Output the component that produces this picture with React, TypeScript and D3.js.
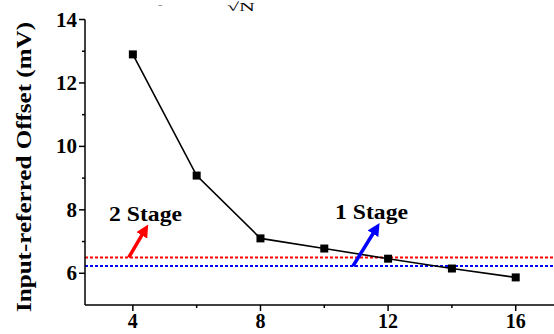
import React, { useEffect, useRef } from "react";
import * as d3 from "d3";

const stages = [4, 6, 8, 10, 12, 14, 16];
const offsets = [12.9, 9.08, 7.1, 6.78, 6.46, 6.15, 5.87];
const xTicks = [4, 8, 12, 16];
const xMinorTicks = [6, 10, 14];
const yTicks = [6, 8, 10, 12, 14];
const yMinorTicks = [7, 9, 11, 13];
const twoStageLevel = 6.5;
const oneStageLevel = 6.23;
const labelTwo = "2 Stage";
const labelOne = "1 Stage";
const yTitle = "Input-referred Offset (mV)";

const W = 554;
const H = 334;
const FONT = "'Liberation Serif', 'Times New Roman', serif";

export default function App() {
  const ref = useRef<SVGSVGElement>(null);
  useEffect(() => {
    const svg = d3.select(ref.current);
    svg.selectAll("*").remove();
    const x = d3.scaleLinear().domain([2.5, 17.2]).range([85, 554]);
    const y = d3.scaleLinear().domain([5, 14]).range([305, 19.5]);

    const defs = svg.append("defs");
    const mk = (id: string, color: string) =>
      defs
        .append("marker")
        .attr("id", id)
        .attr("viewBox", "0 0 10 10")
        .attr("refX", 6)
        .attr("refY", 5)
        .attr("markerWidth", 3.6)
        .attr("markerHeight", 3.6)
        .attr("orient", "auto")
        .attr("markerUnits", "strokeWidth")
        .append("path")
        .attr("d", "M0,0 L10,5 L0,10 z")
        .attr("fill", color);
    mk("arrRed", "#ff0000");
    mk("arrBlue", "#0000ff");

    // top cropped formula fragment
    svg.append("text").attr("x", 158).attr("y", 8).attr("font-family", FONT).attr("font-size", 8).text("−");
    svg.append("text").attr("x", 227).attr("y", 11).attr("font-family", FONT).attr("font-size", 12)
      .attr("textLength", 28).attr("lengthAdjust", "spacingAndGlyphs").text("√N");

    // reference lines
    svg
      .append("line")
      .attr("x1", x(2.5))
      .attr("x2", W)
      .attr("y1", y(twoStageLevel))
      .attr("y2", y(twoStageLevel))
      .attr("stroke", "#ff0000")
      .attr("stroke-width", 2)
      .attr("stroke-dasharray", "3,2");
    svg
      .append("line")
      .attr("x1", x(2.5))
      .attr("x2", W)
      .attr("y1", y(oneStageLevel))
      .attr("y2", y(oneStageLevel))
      .attr("stroke", "#0000ff")
      .attr("stroke-width", 2)
      .attr("stroke-dasharray", "3,2");

    // axes
    const g = svg.append("g").attr("font-family", FONT);
    g.append("line").attr("x1", x(2.5)).attr("x2", W).attr("y1", 305).attr("y2", 305).attr("stroke", "#000").attr("stroke-width", 1.5);
    g.append("line").attr("x1", 85).attr("x2", 85).attr("y1", y(14)).attr("y2", 305).attr("stroke", "#000").attr("stroke-width", 1.5);

    xTicks.forEach((t) => {
      g.append("line").attr("x1", x(t)).attr("x2", x(t)).attr("y1", 305).attr("y2", 311).attr("stroke", "#000").attr("stroke-width", 1.5);
      g.append("text").attr("x", x(t)).attr("y", 328).attr("text-anchor", "middle").attr("font-size", 20).attr("font-weight", "bold").text(t);
    });
    xMinorTicks.forEach((t) => {
      g.append("line").attr("x1", x(t)).attr("x2", x(t)).attr("y1", 305).attr("y2", 308).attr("stroke", "#000").attr("stroke-width", 1.5);
    });
    yTicks.forEach((t) => {
      g.append("line").attr("x1", 79).attr("x2", 85).attr("y1", y(t)).attr("y2", y(t)).attr("stroke", "#000").attr("stroke-width", 1.5);
      g.append("text").attr("x", 77).attr("y", y(t) + 7).attr("text-anchor", "end").attr("font-size", 21).attr("font-weight", "bold").text(t);
    });
    yMinorTicks.forEach((t) => {
      g.append("line").attr("x1", 82).attr("x2", 85).attr("y1", y(t)).attr("y2", y(t)).attr("stroke", "#000").attr("stroke-width", 1.5);
    });

    g.append("text")
      .attr("transform", `translate(31,${167}) rotate(-90)`)
      .attr("text-anchor", "middle")
      .attr("font-size", 21)
      .attr("font-weight", "bold")
      .attr("textLength", 290)
      .attr("lengthAdjust", "spacingAndGlyphs")
      .text(yTitle);

    // data line
    const pts = stages.map((s, i) => [s, offsets[i]] as [number, number]);
    const line = d3.line<[number, number]>().x((d) => x(d[0])).y((d) => y(d[1]));
    svg.append("path").attr("d", line(pts)).attr("fill", "none").attr("stroke", "#000").attr("stroke-width", 1.6);
    svg
      .selectAll("rect.pt")
      .data(pts)
      .enter()
      .append("rect")
      .attr("x", (d) => x(d[0]) - 4)
      .attr("y", (d) => y(d[1]) - 4)
      .attr("width", 8)
      .attr("height", 8)
      .attr("fill", "#000");

    // arrows
    svg
      .append("line")
      .attr("x1", x(3.87))
      .attr("y1", y(6.5))
      .attr("x2", x(4.4))
      .attr("y2", y(7.4))
      .attr("stroke", "#ff0000")
      .attr("stroke-width", 3.5)
      .attr("marker-end", "url(#arrRed)");
    svg
      .append("line")
      .attr("x1", x(10.9))
      .attr("y1", y(6.23))
      .attr("x2", x(11.65))
      .attr("y2", y(7.45))
      .attr("stroke", "#0000ff")
      .attr("stroke-width", 3.5)
      .attr("marker-end", "url(#arrBlue)");

    // labels
    svg.append("text").attr("x", 109).attr("y", 221).attr("font-family", FONT).attr("font-size", 21).attr("font-weight", "bold")
      .attr("textLength", 73).attr("lengthAdjust", "spacingAndGlyphs").text(labelTwo);
    svg.append("text").attr("x", 335).attr("y", 219).attr("font-family", FONT).attr("font-size", 21).attr("font-weight", "bold")
      .attr("textLength", 73).attr("lengthAdjust", "spacingAndGlyphs").text(labelOne);
  }, []);

  return (
    <svg
      ref={ref}
      width={W}
      height={H}
      style={{ position: "absolute", left: 0, top: 0, background: "#fff" }}
    />
  );
}
